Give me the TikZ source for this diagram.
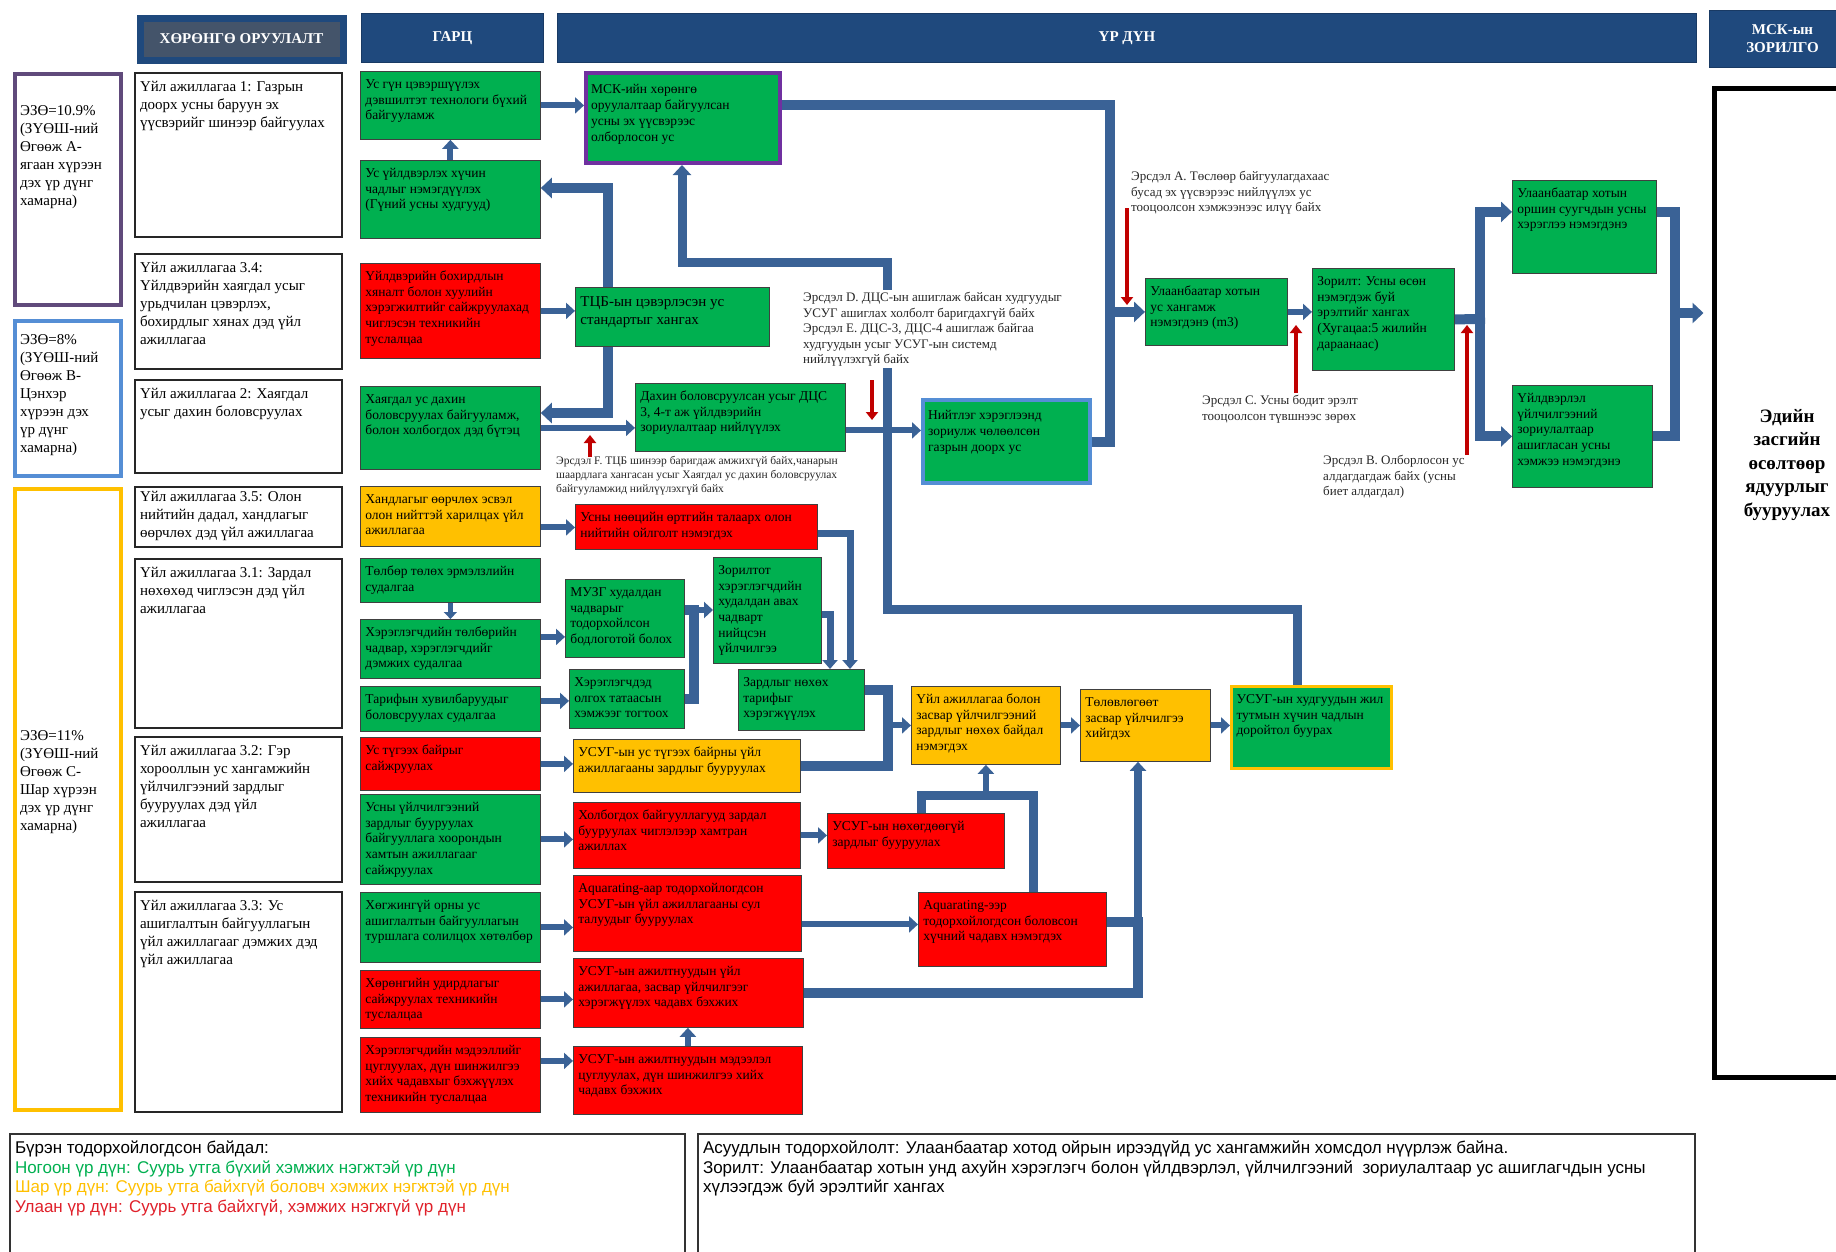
\documentclass[tikz,border=0pt]{standalone}
\usepackage{fontspec}
\setmainfont{Liberation Serif}
\newfontfamily\legfont{Liberation Sans}
\usetikzlibrary{arrows.meta,backgrounds}

\definecolor{boxgreen}{HTML}{00B050}
\definecolor{boxred}{HTML}{FF0000}
\definecolor{boxyellow}{HTML}{FFC000}
\definecolor{flowblue}{HTML}{3A6296}
\definecolor{riskred}{HTML}{C00000}
\definecolor{headblue}{HTML}{1F497D}
\definecolor{headslate}{HTML}{44546A}
\definecolor{ezpurple}{HTML}{604A7B}
\definecolor{ezblue}{HTML}{558ED5}
\definecolor{srcpurple}{HTML}{7030A0}
\definecolor{legred}{HTML}{E0202A}

% box with text at its top left: [drop]{style}{name}{x}{y}{w}{h}{text}
\newcommand{\boxcell}[8][0pt]{%
  \node[#2, anchor=north west] (#3) at (#4,#5)
    {\parbox[t][\dimexpr#7pt-12pt\relax][t]{\dimexpr#6pt-10pt\relax}{\raggedright\vspace*{#1}\strut#8}};}

\tikzset{
  cellbox/.style={draw=black!75, line width=0.8pt, inner xsep=5pt, inner ysep=6pt,
    font=\fontsize{13.5}{15.7}\selectfont},
  gbox/.style={cellbox, fill=boxgreen},
  rbox/.style={cellbox, fill=boxred},
  ybox/.style={cellbox, fill=boxyellow},
  actbox/.style={cellbox, fill=white, draw=black!85, line width=2pt,
    font=\fontsize{15}{18}\selectfont},
  ezbox/.style={actbox, line width=4pt},
  legbox/.style={cellbox, fill=white, draw=black!80, line width=2pt,
    font=\legfont\fontsize{17}{19.5}\selectfont},
  headbox/.style={fill=headblue, draw=headblue!80!black, line width=1pt, text=white,
    font=\bfseries\fontsize{15}{18}\selectfont, anchor=north west, align=center, inner sep=0pt},
  risktext/.style={anchor=north west, inner sep=0pt, align=left, text=black!85,
    font=\fontsize{13}{15.5}\selectfont},
  arr/.style={draw=flowblue, line width=6pt, -{Triangle[length=9pt,width=16pt]}},
  smallarr/.style={draw=flowblue, line width=5pt, -{Triangle[length=7pt,width=13pt]}},
  trunk/.style={draw=flowblue, line width=10pt, line cap=rect},
  trunkarr/.style={trunk, -{Triangle[length=11pt,width=20pt]}},
  midarr/.style={draw=flowblue, line width=7pt, line cap=rect, -{Triangle[length=9pt,width=15pt]}},
  risk/.style={draw=riskred, line width=4.5pt, -{Triangle[length=8pt,width=12pt]}}
}

\begin{document}
\begin{tikzpicture}[x=1pt,y=-1pt]
\useasboundingbox (0,0) rectangle (1836,1251);

% column heads
\node[headbox, fill=headslate, draw=headblue, line width=7pt, minimum width=203pt, minimum height=42pt] (hinv) at (136.5,14.5) {ХӨРӨНГӨ ОРУУЛАЛТ};
\node[headbox, minimum width=182pt, minimum height=49pt] (hout) at (361,13) {ГАРЦ};
\node[headbox, minimum width=1139pt, minimum height=49pt] (hres) at (557,13) {ҮР ДҮН};
\node[headbox, minimum width=146pt, minimum height=57pt] (hgoal) at (1709,10) {МСК-ын\\ЗОРИЛГО};

% return bands
\boxcell[23pt]{ezbox, draw=ezpurple}{ezA}{13}{72}{106}{231}{ЭЗӨ=10.9\%\\(ЗҮӨШ-ний\\Өгөөж А-\\ягаан хүрээн\\дэх үр дүнг\\хамарна)}
\boxcell[5pt]{ezbox, draw=ezblue}{ezB}{13}{319}{106}{155}{ЭЗӨ=8\%\\(ЗҮӨШ-ний\\Өгөөж В-\\Цэнхэр\\хүрээн дэх\\үр дүнг\\хамарна)}
\boxcell[233pt]{ezbox, draw=boxyellow}{ezC}{13}{487}{106}{621}{ЭЗӨ=11\%\\(ЗҮӨШ-ний\\Өгөөж С-\\Шар хүрээн\\дэх үр дүнг\\хамарна)}

% activities
\boxcell{actbox}{a1}{134}{72}{207}{164}{Үйл ажиллагаа 1: Газрын\\доорх усны баруун эх\\үүсвэрийг шинээр байгуулах}
\boxcell{actbox}{a34}{134}{253}{207}{115}{Үйл ажиллагаа 3.4:\\Үйлдвэрийн хаягдал усыг\\урьдчилан цэвэрлэх,\\бохирдлыг хянах дэд үйл\\ажиллагаа}
\boxcell{actbox}{a2}{134}{379}{207}{93}{Үйл ажиллагаа 2: Хаягдал\\усыг дахин боловсруулах}
\boxcell[-4pt]{actbox}{a35}{134}{486}{207}{60}{Үйл ажиллагаа 3.5: Олон\\нийтийн дадал, хандлагыг\\өөрчлөх дэд үйл ажиллагаа}
\boxcell{actbox}{a31}{134}{558}{207}{169}{Үйл ажиллагаа 3.1: Зардал\\нөхөхөд чиглэсэн дэд үйл\\ажиллагаа}
\boxcell{actbox}{a32}{134}{736}{207}{145}{Үйл ажиллагаа 3.2: Гэр\\хорооллын ус хангамжийн\\үйлчилгээний зардлыг\\бууруулах дэд үйл\\ажиллагаа}
\boxcell{actbox}{a33}{134}{891}{207}{220}{Үйл ажиллагаа 3.3: Ус\\ашиглалтын байгууллагын\\үйл ажиллагааг дэмжих дэд\\үйл ажиллагаа}

% outputs
\boxcell{gbox}{gdeep}{360}{71}{180}{68}{Ус гүн цэвэршүүлэх\\дэвшилтэт технологи бүхий\\байгууламж}
\boxcell{gbox}{gwell}{360}{160}{180}{78}{Ус үйлдвэрлэх хүчин\\чадлыг нэмэгдүүлэх\\(Гүний усны худгууд)}
\boxcell{rbox}{gpoll}{360}{263}{180}{95}{Үйлдвэрийн бохирдлын\\хяналт болон хуулийн\\хэрэгжилтийг сайжруулахад\\чиглэсэн техникийн\\туслалцаа}
\boxcell{gbox}{gwaste}{360}{386}{180}{83}{Хаягдал ус дахин\\боловсруулах байгууламж,\\болон холбогдох дэд бүтэц}
\boxcell{ybox}{gattit}{360}{486}{180}{60}{Хандлагыг өөрчлөх эсвэл\\олон нийттэй харилцах үйл\\ажиллагаа}
\boxcell{gbox}{gpay}{360}{558}{180}{44}{Төлбөр төлөх эрмэлзлийн\\судалгаа}
\boxcell{gbox}{gafford}{360}{619}{180}{59}{Хэрэглэгчдийн төлбөрийн\\чадвар, хэрэглэгчдийг\\дэмжих судалгаа}
\boxcell{gbox}{gtariff}{360}{686}{180}{45}{Тарифын хувилбаруудыг\\боловсруулах судалгаа}
\boxcell{rbox}{gkiosk}{360}{737}{180}{53}{Ус түгээх байрыг\\сайжруулах}
\boxcell{gbox}{gcoop}{360}{794}{180}{90}{Усны үйлчилгээний\\зардлыг бууруулах\\байгууллага хоорондын\\хамтын ажиллагааг\\сайжруулах}
\boxcell{gbox}{gexch}{360}{892}{180}{70}{Хөгжингүй орны ус\\ашиглалтын байгууллагын\\туршлага солилцох хөтөлбөр}
\boxcell{rbox}{gasset}{360}{970}{180}{58}{Хөрөнгийн удирдлагыг\\сайжруулах техникийн\\туслалцаа}
\boxcell{rbox}{gdata}{360}{1037}{180}{75}{Хэрэглэгчдийн мэдээллийг\\цуглуулах, дүн шинжилгээ\\хийх чадавхыг бэхжүүлэх\\техникийн туслалцаа}

% outcomes
\boxcell[4pt]{gbox, draw=srcpurple, line width=4pt}{rsrc}{584}{71}{194}{90}{МСК-ийн хөрөнгө\\оруулалтаар байгуулсан\\усны эх үүсвэрээс\\олборлосон ус}
\boxcell{gbox, font=\fontsize{15}{18}\selectfont}{rtcb}{575}{287}{194}{59}{ТЦБ-ын цэвэрлэсэн ус\\стандартыг хангах}
\boxcell{gbox}{rreuse}{635}{383}{210}{68}{Дахин боловсруулсан усыг ДЦС\\3, 4-т аж үйлдвэрийн\\зориулалтаар нийлүүлэх}
\boxcell[3pt]{gbox, draw=ezblue, line width=4pt}{rfree}{921}{398}{167}{83}{Нийтлэг хэрэглээнд\\зориулж чөлөөлсөн\\газрын доорх ус}
\boxcell{rbox}{raware}{575}{504}{242}{45}{Усны нөөцийн өртгийн талаарх олон\\нийтийн ойлголт нэмэгдэх}
\boxcell{gbox}{rmuzg}{565}{579}{119}{78}{МУЗГ худалдан\\чадварыг\\тодорхойлсон\\бодлоготой болох}
\boxcell{gbox}{rtarget}{713}{557}{108}{106}{Зорилтот\\хэрэглэгчдийн\\худалдан авах\\чадварт\\нийцсэн\\үйлчилгээ}
\boxcell{gbox}{rsubs}{569}{669}{115}{59}{Хэрэглэгчдэд\\олгох татаасын\\хэмжээг тогтоох}
\boxcell{gbox}{rcost}{738}{669}{126}{61}{Зардлыг нөхөх\\тарифыг\\хэрэгжүүлэх}
\boxcell{ybox}{rkiosk}{573}{739}{227}{53}{УСУГ-ын ус түгээх байрны үйл\\ажиллагааны зардлыг бууруулах}
\boxcell{ybox}{rrecov}{911}{686}{149}{78}{Үйл ажиллагаа болон\\засвар үйлчилгээний\\зардлыг нөхөх байдал\\нэмэгдэх}
\boxcell{ybox}{rmaint}{1080}{689}{130}{72}{Төлөвлөгөөт\\засвар үйлчилгээ\\хийгдэх}
\boxcell{gbox, draw=boxyellow, line width=3pt}{rdecl}{1230}{685}{160}{82}{УСУГ-ын худгуудын жил\\тутмын хүчин чадлын\\доройтол буурах}
\boxcell{rbox}{rjoint}{573}{802}{227}{66}{Холбогдох байгууллагууд зардал\\бууруулах чиглэлээр хамтран\\ажиллах}
\boxcell{rbox}{runrec}{827}{813}{177}{55}{УСУГ-ын нөхөгдөөгүй\\зардлыг бууруулах}
\boxcell{rbox}{raq1}{573}{875}{228}{76}{Aquarating-аар тодорхойлогдсон\\УСУГ-ын үйл ажиллагааны сул\\талуудыг бууруулах}
\boxcell{rbox}{raq2}{918}{892}{188}{74}{Aquarating-ээр\\тодорхойлогдсон боловсон\\хүчний чадавх нэмэгдэх}
\boxcell{rbox}{rstaff}{573}{958}{230}{69}{УСУГ-ын ажилтнуудын үйл\\ажиллагаа, засвар үйлчилгээг\\хэрэгжүүлэх чадавх бэхжих}
\boxcell{rbox}{rinfo}{573}{1046}{229}{68}{УСУГ-ын ажилтнуудын мэдээлэл\\цуглуулах, дүн шинжилгээ хийх\\чадавх бэхжих}
\boxcell{gbox}{rsupply}{1145}{278}{142}{67}{Улаанбаатар хотын\\ус хангамж\\нэмэгдэнэ (m3)}
\boxcell{gbox}{rgoal}{1312}{268}{142}{102}{Зорилт: Усны өсөн\\нэмэгдэж буй\\эрэлтийг хангах\\(Хугацаа:5 жилийн\\дараанаас)}
\boxcell{gbox}{rhouse}{1512}{180}{144}{93}{Улаанбаатар хотын\\оршин суугчдын усны\\хэрэглээ нэмэгдэнэ}
\boxcell{gbox}{rindus}{1512}{385}{140}{102}{Үйлдвэрлэл\\үйлчилгээний\\зориулалтаар\\ашигласан усны\\хэмжээ нэмэгдэнэ}

% goal of the programme
\boxcell[312pt]{cellbox, fill=white, draw=black, line width=5pt, font=\bfseries\fontsize{19}{23.5}\selectfont}{mgoal}{1711.5}{85.5}{146}{989}{\centering Эдийн\\засгийн\\өсөлтөөр\\ядуурлыг\\бууруулах}

% risks
\node[risktext] (riskA) at (1131,171) {Эрсдэл A. Төслөөр байгуулагдахаас\\бусад эх үүсвэрээс нийлүүлэх ус\\тооцоолсон хэмжээнээс илүү байх};
\node[risktext] (riskB) at (1323,455) {Эрсдэл B. Олборлосон ус\\алдагдагдаж байх (усны\\биет алдагдал)};
\node[risktext] (riskC) at (1202,395) {Эрсдэл C. Усны бодит эрэлт\\тооцоолсон түвшнээс зөрөх};
\node[risktext, fill=white, inner sep=2pt] (riskDE) at (801,290) {Эрсдэл D. ДЦС-ын ашиглаж байсан худгуудыг\\УСУГ ашиглах холболт баригдахгүй байх\\Эрсдэл E. ДЦС-3, ДЦС-4 ашиглаж байгаа\\худгуудын усыг УСУГ-ын системд\\нийлүүлэхгүй байх};
\node[risktext, font=\fontsize{11.5}{14}\selectfont] (riskF) at (556,456) {Эрсдэл F. ТЦБ шинээр баригдаж амжихгүй байх,чанарын\\шаардлага хангасан усыг Хаягдал ус дахин боловсруулах\\байгууламжид нийлүүлэхгүй байх};

% legend
\boxcell{legbox}{leg1}{9}{1133}{675}{135}{Бүрэн тодорхойлогдсон байдал:\\\textcolor{boxgreen}{Ногоон үр дүн: Суурь утга бүхий хэмжих нэгжтэй үр дүн}\\\textcolor{boxyellow}{Шар үр дүн: Суурь утга байхгүй боловч хэмжих нэгжтэй үр дүн}\\\textcolor{legred}{Улаан үр дүн: Суурь утга байхгүй, хэмжих нэгжгүй үр дүн}}
\boxcell{legbox}{leg2}{697}{1133}{997}{135}{Асуудлын тодорхойлолт: Улаанбаатар хотод ойрын ирээдүйд ус хангамжийн хомсдол нүүрлэж байна.\\Зорилт: Улаанбаатар хотын унд ахуйн хэрэглэгч болон үйлдвэрлэл, үйлчилгээний\ \ зориулалтаар ус ашиглагчдын усны\\хүлээгдэж буй эрэлтийг хангах}

% junction points
\coordinate (t1) at (1110,105);
\coordinate (t2) at (608,188);
\coordinate (t3) at (608,413);
\coordinate (t4) at (887,609);
\coordinate (t5) at (887,262);
\coordinate (t6) at (682,262);
\coordinate (t7) at (1297,609);
\coordinate (t8) at (850,533);
\coordinate (t9) at (830,614);
\coordinate (t10) at (694,610);
\coordinate (t12) at (888,690);
\coordinate (t14) at (921,795);
\coordinate (t15) at (1033,795);
\coordinate (t16) at (1138,922);
\coordinate (t18) at (1480,319);
\coordinate (t21) at (1675,313);

\begin{scope}[on background layer]
% water source chain
\draw[arr] (gdeep.east) -- (gdeep.east -| rsrc.west);
\draw[arr] (gwell.north) -- (gdeep.south);
\draw[trunk] (rsrc.east |- t1) -- (t1) -- (t1 |- rfree.east) -- (rfree.east);
\draw[trunkarr] (t1 |- rsupply.west) -- (rsupply.west);
\draw[trunkarr, line width=9pt, -{Triangle[length=10pt,width=18pt]}] (t7 |- rdecl.north) -- (t7) -- (t4) -- (t5) -- (t6) -- (t6 |- rsrc.south);
% waste water
\draw[arr] (gpoll.east) -- (gpoll.east -| rtcb.west);
\draw[trunkarr] (rtcb.north -| t2) -- (t2) -- (t2 -| gwell.east);
\draw[trunkarr] (rtcb.south -| t3) -- (t3) -- (t3 -| gwaste.east);
\draw[arr] (gwaste.east) -- (gwaste.east -| rreuse.west);
\draw[arr] ([yshift=-13pt]rreuse.east) -- ([yshift=-13pt]rreuse.east -| rfree.west);
% tariffs and cost recovery
\draw[arr] ([yshift=-11pt]gattit.east) -- ([yshift=-11pt]gattit.east -| raware.west);
\draw[smallarr] (gpay.south) -- (gafford.north);
\draw[midarr] (raware.east |- t8) -- (t8) -- (t8 |- rcost.north);
\draw[midarr] (rtarget.east |- t9) -- (t9) -- (t9 |- rcost.north);
\draw[arr] ([yshift=12pt]gafford.east) -- ([yshift=12pt]gafford.east -| rmuzg.west);
\draw[arr] ([yshift=8pt]gtariff.east) -- ([yshift=8pt]gtariff.east -| rsubs.west);
\draw[arr] (gkiosk.east) -- (gkiosk.east -| rkiosk.west);
\draw[trunk] (rmuzg.east |- t10) -- (t10) -- (t10 |- rsubs.east) -- (rsubs.east);
\draw[arr] (t10) -- (t10 -| rtarget.west);
\draw[trunk] (rcost.east |- t12) -- (t12) -- (t12 |- rkiosk.east) -- (rkiosk.east);
\draw[arr] (t12 |- rrecov.west) -- (rrecov.west);
\draw[arr] (rrecov.east) -- (rrecov.east -| rmaint.west);
\draw[arr] (rmaint.east) -- (rmaint.east -| rdecl.west);
% operator capacity
\draw[arr] (gcoop.east) -- (gcoop.east -| rjoint.west);
\draw[arr] (rjoint.east) -- (rjoint.east -| runrec.west);
\draw[trunk, line width=9pt] (t14 |- runrec.north) -- (t14) -- (t15) -- (t15 |- raq2.north);
\draw[arr] (rrecov.south |- t14) -- (rrecov.south);
\draw[arr] (gexch.east) -- (gexch.east -| raq1.west);
\draw[arr] ([yshift=-11pt]raq1.east) -- ([yshift=-11pt]raq1.east -| raq2.west);
\draw[trunk] (raq2.east |- t16) -- (t16);
\draw[trunk] (rstaff.east) -| (t16);
\draw[trunkarr, line width=8pt, -{Triangle[length=9pt,width=16pt]}] (t16) -- (t16 |- rmaint.south);
\draw[arr] (gasset.east) -- (gasset.east -| rstaff.west);
\draw[arr] ([yshift=14pt]gdata.east) -- ([yshift=14pt]gdata.east -| rinfo.west);
\draw[arr] (rinfo.north) -- (rinfo.north |- rstaff.south);
% demand side
\draw[arr] (rsupply.east) -- (rsupply.east -| rgoal.west);
\draw[trunk] (rgoal.east) -- (t18);
\draw[trunkarr] (t18) |- ([yshift=15pt]rhouse.west);
\draw[trunkarr] (t18) |- (rindus.west);
\draw[trunk] ([yshift=15pt]rhouse.east) -| (t21);
\draw[trunk] (rindus.east) -| (t21);
\draw[trunkarr, shorten >=8pt] (t21) -- (t21 -| mgoal.west);
\end{scope}

% risk arrows
\coordinate (ra1) at (1127,208); \coordinate (ra2) at (1127,305);
\coordinate (rb1) at (1467,455); \coordinate (rb2) at (1467,325);
\coordinate (rc1) at (1296,393); \coordinate (rc2) at (1296,325);
\coordinate (rd1) at (872,380);  \coordinate (rd2) at (872,420);
\coordinate (rf1) at (590,457);  \coordinate (rf2) at (590,435);
\foreach \a/\b in {ra1/ra2, rb1/rb2, rc1/rc2, rd1/rd2, rf1/rf2}
  \draw[risk] (\a) -- (\b);
\end{tikzpicture}
\end{document}
